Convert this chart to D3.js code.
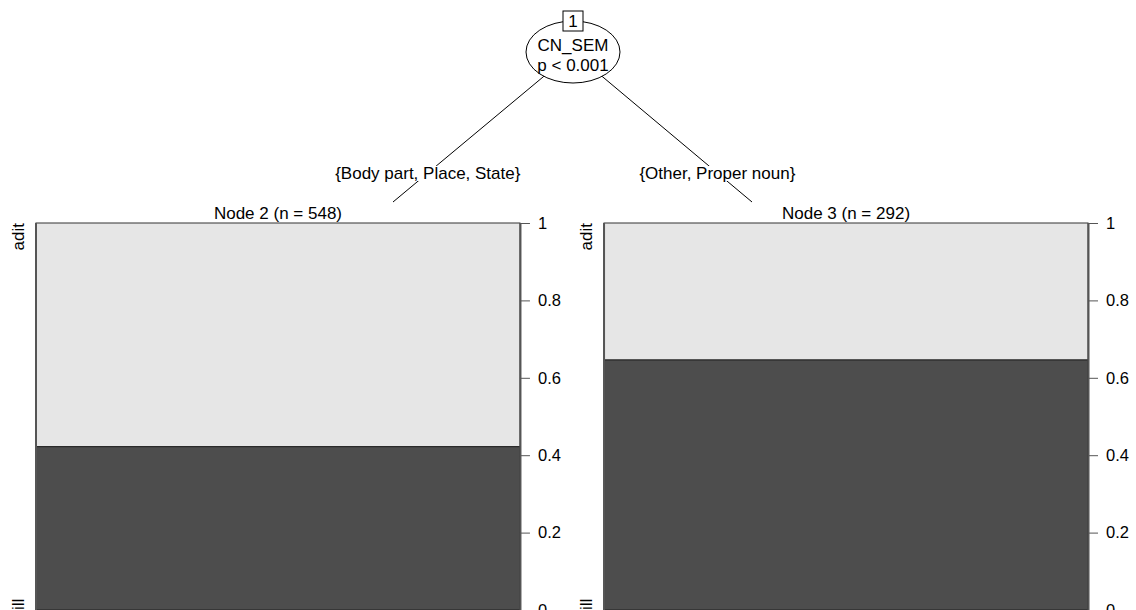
<!doctype html>
<html lang="en">
  <head>
    <meta charset="UTF-8" />
    <title>CN_SEM conditional inference tree</title>
    <script src="https://d3js.org/d3.v7.min.js"></script>
    <style>
      body {
        margin: 0;
        background: #fff;
      }
      svg text {
        font-family: 'Liberation Sans', Arial, sans-serif;
        font-size: 17px;
        fill: #000;
      }
    </style>
  </head>
  <body>
    <svg width="1136" height="610"></svg>
    <script>
      // data
      const rootLabel = ['CN_SEM', 'p < 0.001'];
      const rootId = '1';
      const nodeTitles = ['Node 2 (n = 548)', 'Node 3 (n = 292)'];
      const splitLabels = ['{Body part, Place, State}', '{Other, Proper noun}'];
      const levels = ['ill', 'adit']; // bottom (dark) level first
      const darkShare = [0.422, 0.646];
      const tickValues = [0, 0.2, 0.4, 0.6, 0.8, 1];

      const svg = d3.select('svg');

      const x = d3
        .scaleBand()
        .domain(nodeTitles)
        .range([36, 1088])
        .paddingInner(0.148)
        .paddingOuter(0);

      const y = d3.scaleLinear().domain([0, 1]).range([610, 223]);

      const root = { x: 573, y: 52 };
      const edgeEnds = [
        { x: 393, y: 202 },
        { x: 752, y: 202 },
      ];
      const labelY = 173;

      // edges
      edgeEnds.forEach((e, i) => {
        svg
          .append('line')
          .attr('x1', root.x)
          .attr('y1', root.y)
          .attr('x2', e.x)
          .attr('y2', e.y)
          .attr('stroke', '#000')
          .attr('stroke-width', 1);

        // edge label on the line with white background
        const lx = root.x + ((e.x - root.x) * (labelY - root.y)) / (e.y - root.y);
        const g = svg.append('g');
        const t = g
          .append('text')
          .attr('x', lx)
          .attr('y', labelY)
          .attr('dy', '0.35em')
          .attr('text-anchor', 'middle')
          .text(splitLabels[i]);
        const bb = t.node().getBBox();
        g.insert('rect', 'text')
          .attr('x', bb.x - 1)
          .attr('y', bb.y + 2)
          .attr('width', bb.width + 2)
          .attr('height', bb.height - 4)
          .attr('fill', '#fff');
      });

      // root node
      svg
        .append('ellipse')
        .attr('cx', root.x)
        .attr('cy', root.y)
        .attr('rx', 47)
        .attr('ry', 31)
        .attr('fill', '#fff')
        .attr('stroke', '#000');

      svg
        .selectAll('.rootlab')
        .data(rootLabel)
        .enter()
        .append('text')
        .attr('class', 'rootlab')
        .attr('x', root.x)
        .attr('y', (d, i) => 45 + i * 20)
        .attr('dy', '0.35em')
        .attr('text-anchor', 'middle')
        .text((d) => d);

      svg
        .append('rect')
        .attr('x', root.x - 10)
        .attr('y', 11)
        .attr('width', 20)
        .attr('height', 20)
        .attr('fill', '#fff')
        .attr('stroke', '#000');
      svg
        .append('text')
        .attr('x', root.x)
        .attr('y', 21)
        .attr('dy', '0.35em')
        .attr('text-anchor', 'middle')
        .text(rootId);

      // terminal panels
      nodeTitles.forEach((name, i) => {
        const x0 = x(name);
        const w = x.bandwidth();
        const p = svg.append('g');

        p.append('rect')
          .attr('x', x0)
          .attr('y', y(1))
          .attr('width', w)
          .attr('height', y(darkShare[i]) - y(1))
          .attr('fill', '#e6e6e6')
          .attr('stroke', '#333')
          .attr('stroke-width', 1);

        p.append('rect')
          .attr('x', x0)
          .attr('y', y(darkShare[i]))
          .attr('width', w)
          .attr('height', y(0) - y(darkShare[i]))
          .attr('fill', '#4d4d4d')
          .attr('stroke', '#222')
          .attr('stroke-width', 1);

        // side lines
        p.append('line')
          .attr('x1', x0)
          .attr('x2', x0)
          .attr('y1', y(1))
          .attr('y2', y(0))
          .attr('stroke', '#555')
          .attr('stroke-width', 2);

        // right axis
        const ax = p
          .append('g')
          .attr('transform', `translate(${x0 + w},0)`)
          .call(
            d3
              .axisRight(y)
              .tickValues(tickValues)
              .tickSize(10)
              .tickSizeOuter(0)
              .tickPadding(8)
              .tickFormat((d) => String(d)),
          );
        ax.select('.domain').attr('stroke', '#555').attr('stroke-width', 2);
        ax.selectAll('.tick line').attr('stroke', '#555');
        ax.selectAll('.tick text')
          .style('font-size', '16.5px')
          .style('font-family', "'Liberation Sans', Arial, sans-serif")
          .attr('fill', '#000');

        // title
        p.append('text')
          .attr('x', x0 + w / 2)
          .attr('y', 219)
          .attr('text-anchor', 'middle')
          .text(name);

        // level labels
        p.append('text')
          .attr('transform', `translate(${x0 - 12.5},${y(1)}) rotate(-90)`)
          .attr('text-anchor', 'end')
          .text(levels[1]);
        p.append('text')
          .attr('transform', `translate(${x0 - 12.5},${y(0)}) rotate(-90)`)
          .attr('text-anchor', 'start')
          .text(levels[0]);
      });
    </script>
  </body>
</html>
